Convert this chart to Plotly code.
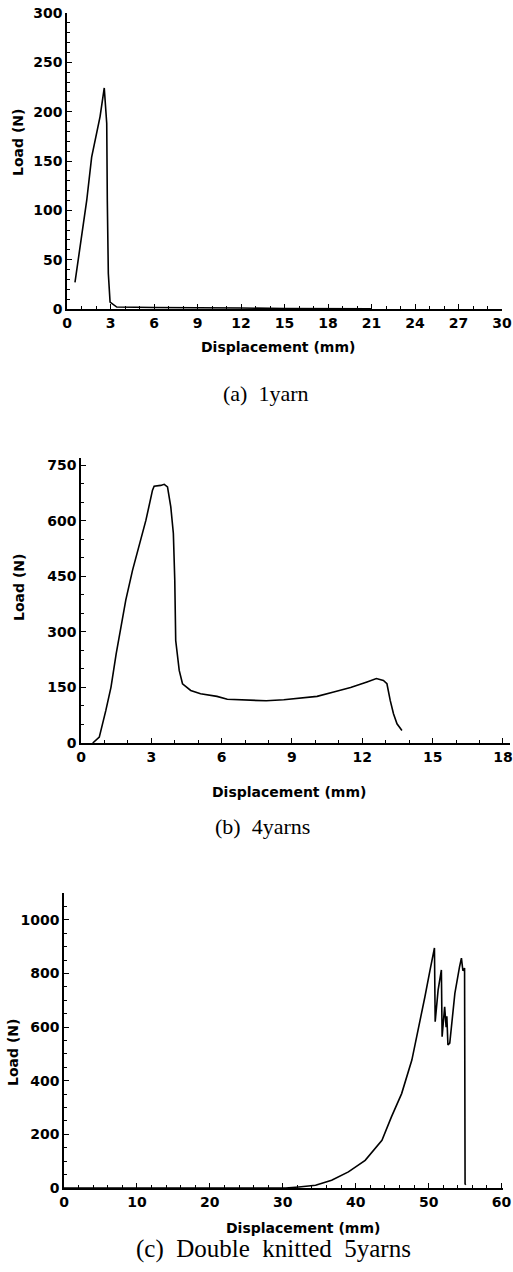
import plotly.graph_objects as go

# ---------------- data ----------------
# (a) 1 yarn
a_disp = [0.55, 1.01, 1.36, 1.70, 2.05, 2.28, 2.57, 2.74, 2.78, 2.85, 2.97, 3.43, 6.0, 9.0, 12.0, 15.0, 18.0, 21.0]
a_load = [27, 77, 110, 154, 178, 195, 224, 188, 110, 36, 7, 2, 1.5, 1.5, 1.0, 0.5, 0.5, 0.3]

# (b) 4 yarns
b_disp = [0.5, 0.78, 1.06, 1.28, 1.5, 1.7, 1.91, 2.2, 2.48, 2.77, 3.05, 3.12, 3.4, 3.55, 3.69, 3.83, 3.94,
          4.0, 4.04, 4.19, 4.33, 4.68, 5.1, 5.8, 6.24, 6.8, 7.9, 8.65, 9.36, 10.07, 10.78, 11.5, 12.2,
          12.6, 12.9, 13.05, 13.19, 13.33, 13.48, 13.69]
b_load = [0, 16, 88, 151, 241, 309, 386, 467, 530, 602, 683, 694, 696, 699, 692, 638, 566,
          440, 277, 196, 160, 142, 133, 126, 118, 117, 114, 117, 122, 126, 138, 150, 165,
          174, 169, 160, 115, 79, 52, 34]

# (c) Double knitted 5 yarns
c_disp = [0, 10, 20, 30.4, 32.2, 34.5, 36.7, 39.0, 41.3, 43.6, 44.9, 46.3, 47.7, 48.6, 49.5, 50.2, 50.6,
          50.8, 50.9, 51.3, 51.75, 51.85, 52.2, 52.4, 52.5, 52.65, 52.9, 53.6, 54.25, 54.5, 54.7, 54.93,
          55.0, 55.1]
c_load = [0, 0, 0, 0, 4, 10, 29, 60, 103, 178, 265, 352, 477, 589, 714, 813, 875,
          895, 620, 738, 813, 564, 676, 600, 640, 533, 540, 726, 826, 857, 810, 820,
          15, 12]

captions = ["(a)  1yarn", "(b)  4yarns", "(c)  Double  knitted  5yarns"]
x_title = "Displacement (mm)"
y_title = "Load (N)"

# ---------------- figure ----------------
W, H = 513, 1272
fig = go.Figure()
line = dict(color="black", width=1.6)
fig.add_trace(go.Scatter(x=a_disp, y=a_load, mode="lines", line=line, xaxis="x", yaxis="y", showlegend=False))
fig.add_trace(go.Scatter(x=b_disp, y=b_load, mode="lines", line=line, xaxis="x2", yaxis="y2", showlegend=False))
fig.add_trace(go.Scatter(x=c_disp, y=c_load, mode="lines", line=line, xaxis="x3", yaxis="y3", showlegend=False))

tickfont = dict(family="DejaVu Sans", size=14, color="black", weight="bold")


def px_x(p):
    return p / W


def px_y(p):
    return 1 - p / H


def axis(domain, rng, dtick, minor_dtick, anchor):
    return dict(domain=domain, range=rng, dtick=dtick, tick0=0, showgrid=False, zeroline=False,
                showline=True, linecolor="black", linewidth=1.5, ticks="inside", ticklen=5,
                tickcolor="black", tickwidth=1.2, tickfont=tickfont, anchor=anchor, automargin=False,
                ticklabeloverflow="allow",
                minor=dict(dtick=minor_dtick, ticks="inside", ticklen=3, tickcolor="black", tickwidth=1),
                fixedrange=True)


fig.update_layout(
    width=W, height=H, margin=dict(l=0, r=0, t=0, b=0, pad=0, autoexpand=False),
    paper_bgcolor="white", plot_bgcolor="white",
    xaxis=axis([px_x(67), px_x(502)], [0, 30], 3, 1, "y"),
    yaxis=axis([px_y(309), px_y(13)], [0, 300], 50, 10, "x"),
    xaxis2=axis([px_x(81), px_x(510)], [0, 18.3], 3, 1, "y2"),
    yaxis2=axis([px_y(743), px_y(458)], [0, 770], 150, 50, "x2"),
    xaxis3=axis([px_x(64), px_x(503)], [0, 60.2], 10, 2, "y3"),
    yaxis3=axis([px_y(1188), px_y(893)], [0, 1100], 200, 50, "x3"),
)

ann = []
title_font = dict(family="DejaVu Sans", size=14, color="black", weight="bold")
cap_font = dict(family="Liberation Serif", size=22, color="black")
# x-axis titles
for xc, yc in [(278, 347), (289, 792), (303, 1228)]:
    ann.append(dict(text=x_title, x=px_x(xc), y=px_y(yc), xref="paper", yref="paper",
                    showarrow=False, font=title_font, xanchor="center", yanchor="middle"))
# y-axis titles
for xc, yc in [(18, 143), (19, 588), (13, 1053)]:
    ann.append(dict(text=y_title, x=px_x(xc), y=px_y(yc), xref="paper", yref="paper",
                    showarrow=False, font=title_font, textangle=-90, xanchor="center", yanchor="middle"))
# captions
for (xc, yc), cap, sz in zip([(266, 393), (262, 826), (273, 1249)], captions, [22, 22, 25]):
    ann.append(dict(text=cap.replace("  ", "&nbsp; "), x=px_x(xc), y=px_y(yc), xref="paper", yref="paper",
                    showarrow=False, font=dict(cap_font, size=sz), xanchor="center", yanchor="middle"))
fig.update_layout(annotations=ann)

fig.write_html("out.html", config={"displayModeBar": False},
               post_script="document.body.style.margin='0';document.body.style.padding='0';"
                           "document.documentElement.style.overflow='hidden';")
